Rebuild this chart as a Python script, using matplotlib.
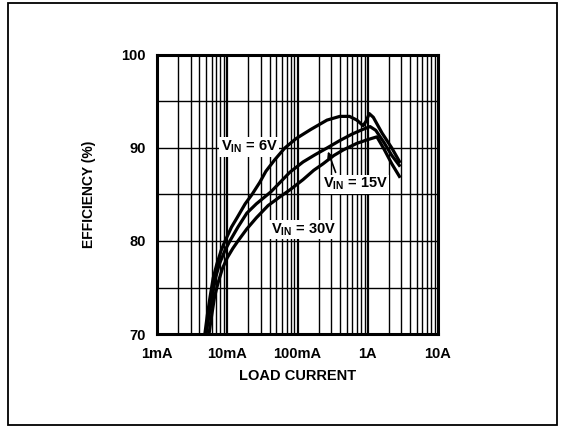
import matplotlib
matplotlib.use("Agg")
import matplotlib.pyplot as plt
from matplotlib.patches import Rectangle

# ---- data ----
i_6v = [0.0048, 0.0052, 0.0057, 0.0063, 0.0071, 0.0082, 0.0093, 0.0115, 0.0138, 0.018, 0.0225, 0.029,
        0.0355, 0.047, 0.066, 0.095, 0.155, 0.263, 0.40, 0.55, 0.70, 0.86, 0.95, 1.05, 1.2, 1.6, 2.2, 2.9]
eff_6v = [70.0, 72.0, 74.0, 76.0, 77.5, 79.0, 80.0, 81.5, 82.5, 84.0, 85.0, 86.3,
          87.5, 88.7, 90.0, 91.0, 92.0, 93.0, 93.4, 93.4, 93.0, 92.4, 92.9, 93.7, 93.3, 91.6, 90.0, 88.4]

i_15v = [0.0050, 0.0055, 0.0061, 0.0068, 0.0077, 0.0093, 0.0109, 0.0142, 0.019, 0.026, 0.042, 0.078,
         0.12, 0.18, 0.263, 0.40, 0.60, 0.85, 1.08, 1.3, 1.7, 2.2, 2.9]
eff_15v = [70.0, 72.0, 74.0, 76.0, 77.5, 79.0, 80.0, 81.5, 83.0, 84.0, 85.3, 87.4,
           88.5, 89.3, 90.0, 90.8, 91.5, 92.0, 92.3, 91.9, 90.6, 89.2, 88.0]

i_30v = [0.0055, 0.0060, 0.0066, 0.0074, 0.0085, 0.010, 0.012, 0.0142, 0.019, 0.026, 0.038, 0.055,
         0.078, 0.12, 0.17, 0.231, 0.33, 0.45, 0.70, 1.0, 1.35, 1.7, 2.2, 2.9]
eff_30v = [70.0, 72.0, 74.0, 75.5, 77.0, 78.2, 79.2, 80.0, 81.3, 82.5, 83.8, 84.7,
           85.5, 86.6, 87.6, 88.3, 89.2, 89.8, 90.5, 90.9, 91.2, 89.9, 88.3, 86.8]

x_ticks = [0.001, 0.01, 0.1, 1, 10]
x_tick_labels = ["1mA", "10mA", "100mA", "1A", "10A"]
y_ticks = [70, 80, 90, 100]
y_tick_labels = ["70", "80", "90", "100"]

# ---- font ----
fam = ["Liberation Sans", "DejaVu Sans"]
plt.rcParams["font.family"] = fam
plt.rcParams["mathtext.fontset"] = "custom"
plt.rcParams["mathtext.rm"] = "Liberation Sans:bold"
plt.rcParams["mathtext.it"] = "Liberation Sans:bold"
plt.rcParams["mathtext.bf"] = "Liberation Sans:bold"

fig = plt.figure(figsize=(5.67, 4.32), dpi=100)
fig.patch.set_facecolor("white")

# outer frame
fig.patches.append(Rectangle((8 / 567, 7 / 432), 549 / 567, 422 / 432, transform=fig.transFigure,
                             fill=False, edgecolor="black", linewidth=1.3))

ax = fig.add_axes([157 / 567, 98 / 432, 281 / 567, 279 / 432])
ax.set_xscale("log")
ax.set_xlim(0.001, 10)
ax.set_ylim(70, 100)

# grid
for dec in [0.001, 0.01, 0.1, 1]:
    for m in range(1, 10):
        x = dec * m
        if x <= 0.001:
            continue
        ax.axvline(x, color="black", linewidth=1.6 if m == 1 else 1.0, zorder=1)
for y in [75, 80, 85, 90, 95]:
    ax.axhline(y, color="black", linewidth=1.0, zorder=1)

for spine in ax.spines.values():
    spine.set_linewidth(2.2)
    spine.set_color("black")

lw = 2.3
for xs, ys in [(i_6v, eff_6v), (i_15v, eff_15v), (i_30v, eff_30v)]:
    ax.plot(xs, ys, color="black", linewidth=lw, zorder=6, solid_joinstyle="round", solid_capstyle="butt")

ax.set_xticks(x_ticks)
ax.set_xticklabels(x_tick_labels)
ax.set_yticks(y_ticks)
ax.set_yticklabels(y_tick_labels)
ax.minorticks_off()
ax.tick_params(axis="both", length=0, labelsize=10.5)
ax.tick_params(axis="x", pad=9)
ax.tick_params(axis="y", pad=8)
for lab in ax.get_xticklabels() + ax.get_yticklabels():
    lab.set_fontweight("bold")

ax.set_xlabel("LOAD CURRENT", fontsize=10.5, fontweight="bold", labelpad=6)
ax.set_ylabel("EFFICIENCY (%)", fontsize=10, fontweight="bold", labelpad=18)

box = dict(facecolor="white", edgecolor="none", pad=1.0)
ax.text(0.0205, 90.1, r"V$_{\mathrm{IN}}$ = 6V", fontsize=10.5, fontweight="bold", ha="center", va="center",
        bbox=box, zorder=4)
ax.text(0.66, 86.1, r"V$_{\mathrm{IN}}$ = 15V", fontsize=10.5, fontweight="bold", ha="center", va="center",
        bbox=box, zorder=4)
ax.text(0.12, 81.2, r"V$_{\mathrm{IN}}$ = 30V", fontsize=10.5, fontweight="bold", ha="center", va="center",
        bbox=box, zorder=4)
ax.annotate("", xy=(0.263, 89.9), xytext=(0.36, 87.1),
            arrowprops=dict(arrowstyle="-|>", color="black", lw=1.2, mutation_scale=8), zorder=7)

fig.savefig("out.png", dpi=100, facecolor="white")
